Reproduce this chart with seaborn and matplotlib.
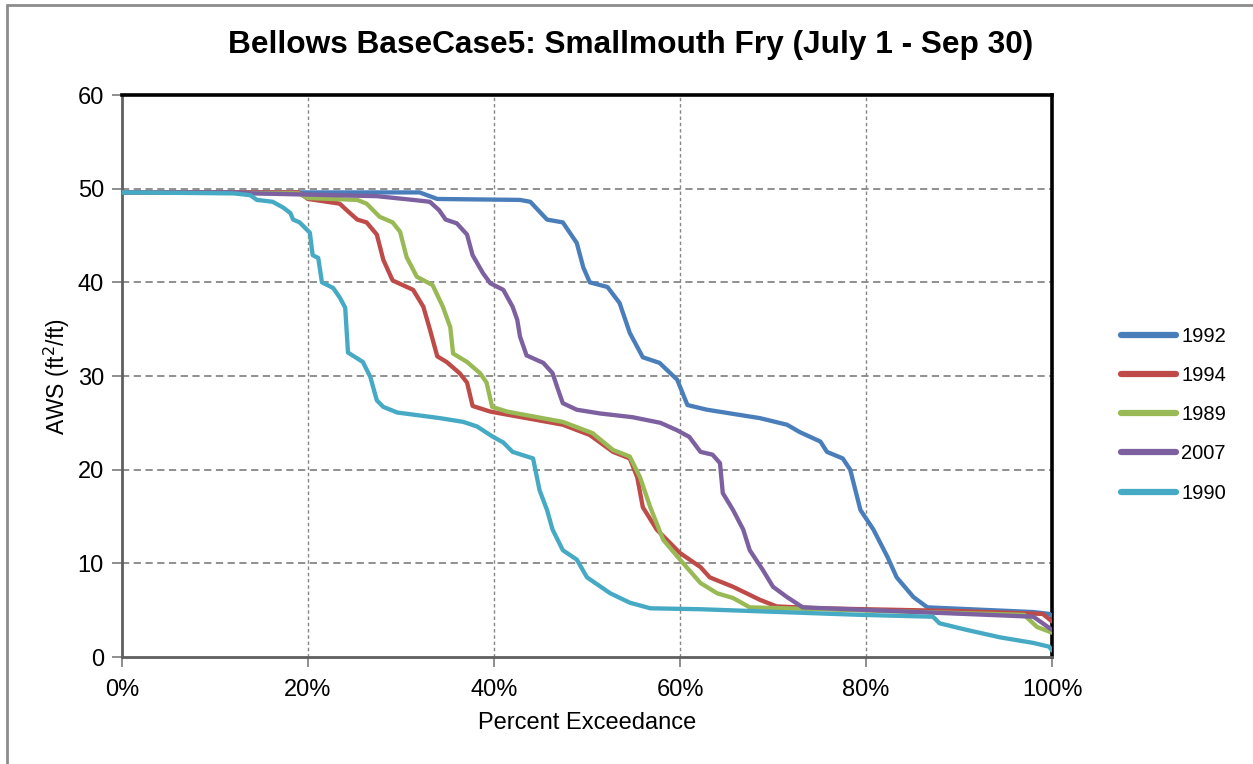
import matplotlib
matplotlib.use("Agg")
import matplotlib.pyplot as plt
import matplotlib.ticker as mticker
from matplotlib.lines import Line2D
import pandas as pd
import seaborn as sns

# percent exceedance / AWS pairs
x_1992 = [0, 32.0, 33.9, 42.8, 43.9, 45.7, 47.4, 48.9, 49.6, 50.3, 52.2, 53.5, 54.6, 56.0,
          57.8, 59.7, 60.8, 62.9, 68.6, 71.5, 72.9, 75.1, 75.8, 77.5, 78.3, 79.4, 80.8,
          82.3, 83.3, 85.1, 86.6, 98.0, 99.7, 100]
y_1992 = [49.6, 49.6, 48.9, 48.8, 48.6, 46.7, 46.4, 44.2, 41.6, 40.0, 39.5, 37.8, 34.6, 32.0,
          31.4, 29.6, 26.9, 26.4, 25.5, 24.8, 24.0, 23.0, 21.9, 21.2, 20.0, 15.7, 13.6,
          10.7, 8.5, 6.4, 5.3, 4.8, 4.6, 4.4]

x_1994 = [0, 19.0, 20.0, 23.4, 24.5, 25.3, 26.3, 27.4, 28.1, 29.1, 30.2, 31.3, 32.4, 33.1,
          33.9, 34.9, 36.3, 37.1, 37.7, 39.6, 47.4, 50.3, 52.8, 54.6, 55.4, 56.0, 57.5,
          60.0, 62.2, 63.2, 65.7, 68.6, 70.4, 75.0, 90.0, 99.0, 100]
y_1994 = [49.6, 49.6, 48.9, 48.4, 47.4, 46.7, 46.4, 45.1, 42.4, 40.2, 39.7, 39.2, 37.4, 35.0,
          32.1, 31.5, 30.3, 29.3, 26.8, 26.2, 24.8, 23.7, 21.9, 21.2, 19.2, 16.0, 13.6,
          11.1, 9.6, 8.5, 7.5, 6.1, 5.4, 5.2, 4.9, 4.6, 3.8]

x_1989 = [0, 19.0, 20.0, 25.3, 26.3, 27.7, 29.1, 29.9, 30.6, 31.7, 33.4, 34.5, 35.3, 35.6,
          37.1, 38.5, 39.2, 39.8, 41.4, 47.4, 50.6, 52.8, 54.6, 55.7, 56.8, 58.2, 60.0,
          62.2, 64.0, 65.7, 67.5, 75.0, 97.0, 98.4, 100]
y_1989 = [49.6, 49.5, 49.0, 48.8, 48.4, 47.0, 46.4, 45.4, 42.7, 40.6, 39.7, 37.4, 35.2, 32.4,
          31.5, 30.3, 29.3, 26.7, 26.2, 25.1, 23.9, 22.1, 21.4, 19.2, 16.0, 12.5, 10.4,
          7.9, 6.8, 6.3, 5.3, 5.1, 4.5, 3.2, 2.6]

x_2007 = [0, 12.0, 14.0, 27.4, 31.3, 33.1, 34.1, 34.8, 36.0, 37.1, 37.7, 38.8, 39.6, 41.0,
          42.0, 42.5, 42.8, 43.5, 45.3, 46.3, 46.8, 47.4, 48.9, 51.4, 54.9, 57.9, 59.7,
          61.0, 62.2, 63.5, 64.3, 64.6, 65.7, 66.8, 67.5, 68.9, 70.0, 71.5, 73.2, 98.0, 100]
y_2007 = [49.6, 49.6, 49.5, 49.2, 48.8, 48.6, 47.7, 46.7, 46.3, 45.1, 42.9, 41.0, 39.9, 39.2,
          37.4, 36.0, 34.2, 32.2, 31.4, 30.3, 28.8, 27.1, 26.4, 26.0, 25.6, 25.0, 24.2,
          23.5, 21.9, 21.6, 20.7, 17.5, 15.7, 13.6, 11.4, 9.3, 7.5, 6.4, 5.3, 4.3, 2.9]

x_1990 = [0, 12.0, 13.8, 14.5, 16.2, 17.3, 18.1, 18.4, 19.1, 20.2, 20.5, 21.1, 21.5, 22.7,
          23.4, 24.0, 24.3, 25.9, 26.7, 27.4, 28.1, 29.6, 34.2, 36.7, 38.2, 39.9, 41.0,
          42.0, 44.2, 44.9, 45.7, 46.3, 47.4, 48.9, 50.0, 52.5, 54.6, 56.8, 62.2, 79.4,
          87.2, 87.9, 90.8, 94.4, 98.0, 99.7, 100]
y_1990 = [49.6, 49.5, 49.3, 48.8, 48.6, 48.0, 47.4, 46.7, 46.4, 45.3, 42.9, 42.6, 40.0, 39.4,
          38.4, 37.3, 32.5, 31.5, 29.9, 27.4, 26.7, 26.1, 25.5, 25.1, 24.6, 23.5, 22.9,
          21.9, 21.2, 17.8, 15.7, 13.6, 11.4, 10.4, 8.5, 6.8, 5.8, 5.2, 5.1, 4.5,
          4.3, 3.6, 2.9, 2.1, 1.5, 1.1, 0.7]

years = ["1992", "1994", "1989", "2007", "1990"]
xs = [x_1992, x_1994, x_1989, x_2007, x_1990]
ys = [y_1992, y_1994, y_1989, y_2007, y_1990]
colors = ["#4A7EBB", "#BE4B48", "#98B954", "#7D60A0", "#46AAC5"]

sns.set_style("white")
plt.rcParams["font.family"] = ["Liberation Sans", "DejaVu Sans"]
plt.rcParams["text.color"] = "black"
plt.rcParams["axes.labelcolor"] = "black"
plt.rcParams["xtick.labelcolor"] = "black"
plt.rcParams["ytick.labelcolor"] = "black"

fig = plt.figure(figsize=(12.53, 7.64), dpi=100)
ax = fig.add_axes([122 / 1253, 107 / 764, 930 / 1253, 562 / 764])

for year, x, y, c in zip(years, xs, ys, colors):
    df = pd.DataFrame({"pct": [v / 100 for v in x], "aws": y})
    sns.lineplot(data=df, x="pct", y="aws", ax=ax, color=c, linewidth=3.1,
                 estimator=None, sort=False, solid_capstyle="round",
                 solid_joinstyle="round", zorder=3)

ax.set_xlim(0, 1)
ax.set_ylim(0, 60)
ax.xaxis.set_major_locator(mticker.MultipleLocator(0.2))
ax.xaxis.set_minor_locator(mticker.MultipleLocator(0.1))
ax.xaxis.set_major_formatter(mticker.PercentFormatter(1.0, decimals=0))
ax.yaxis.set_major_locator(mticker.MultipleLocator(10))

# grid: dashed horizontal, finer dotted vertical
ax.grid(False)
for v in range(10, 60, 10):
    ax.axhline(v, color="#878787", lw=1.3, ls=(0, (4, 2.5)), zorder=1)
for v in [0.2, 0.4, 0.6, 0.8]:
    ax.axvline(v, color="#878787", lw=1.0, ls=(0, (2.5, 2)), zorder=1)

for side in ["top", "right"]:
    ax.spines[side].set_color("black")
    ax.spines[side].set_linewidth(2.6)
for side in ["left", "bottom"]:
    ax.spines[side].set_color("#5f5f5f")
    ax.spines[side].set_linewidth(2.0)

ax.tick_params(axis="both", which="both", direction="out", color="#868686",
               labelsize=17, width=1.3)
ax.tick_params(axis="both", which="major", length=7)
ax.tick_params(axis="x", which="both", pad=9)
ax.tick_params(axis="y", pad=6)
ax.tick_params(axis="x", which="minor", length=7)
ax.tick_params(axis="x", bottom=True)
ax.tick_params(axis="y", left=True)

ax.set_xlabel("Percent Exceedance", fontsize=17, labelpad=8)
ax.set_ylabel("AWS (ft$^2$/ft)", fontsize=16.5, labelpad=4)

fig.text(0.503, 0.941, "Bellows BaseCase5: Smallmouth Fry (July 1 - Sep 30)",
         ha="center", va="center", fontsize=22.8, fontweight="bold")

handles = [Line2D([0], [0], color=c, lw=4.5, solid_capstyle="round") for c in colors]
fig.legend(handles, years, loc="center left", bbox_to_anchor=(1121 / 1253, 0.457),
           frameon=False, fontsize=14.5, handlelength=2.75, handletextpad=0.25,
           labelspacing=1.0, borderpad=0, borderaxespad=0)

# chart area border (only left and top edges show in the crop)
fig.add_artist(Line2D([7 / 1253, 7 / 1253], [0, 1 - 5 / 764], transform=fig.transFigure,
                      color="#8c8c8c", lw=2))
fig.add_artist(Line2D([7 / 1253, 1], [1 - 5 / 764, 1 - 5 / 764], transform=fig.transFigure,
                      color="#8c8c8c", lw=2))

fig.savefig("out.png", dpi=100, facecolor="white")
